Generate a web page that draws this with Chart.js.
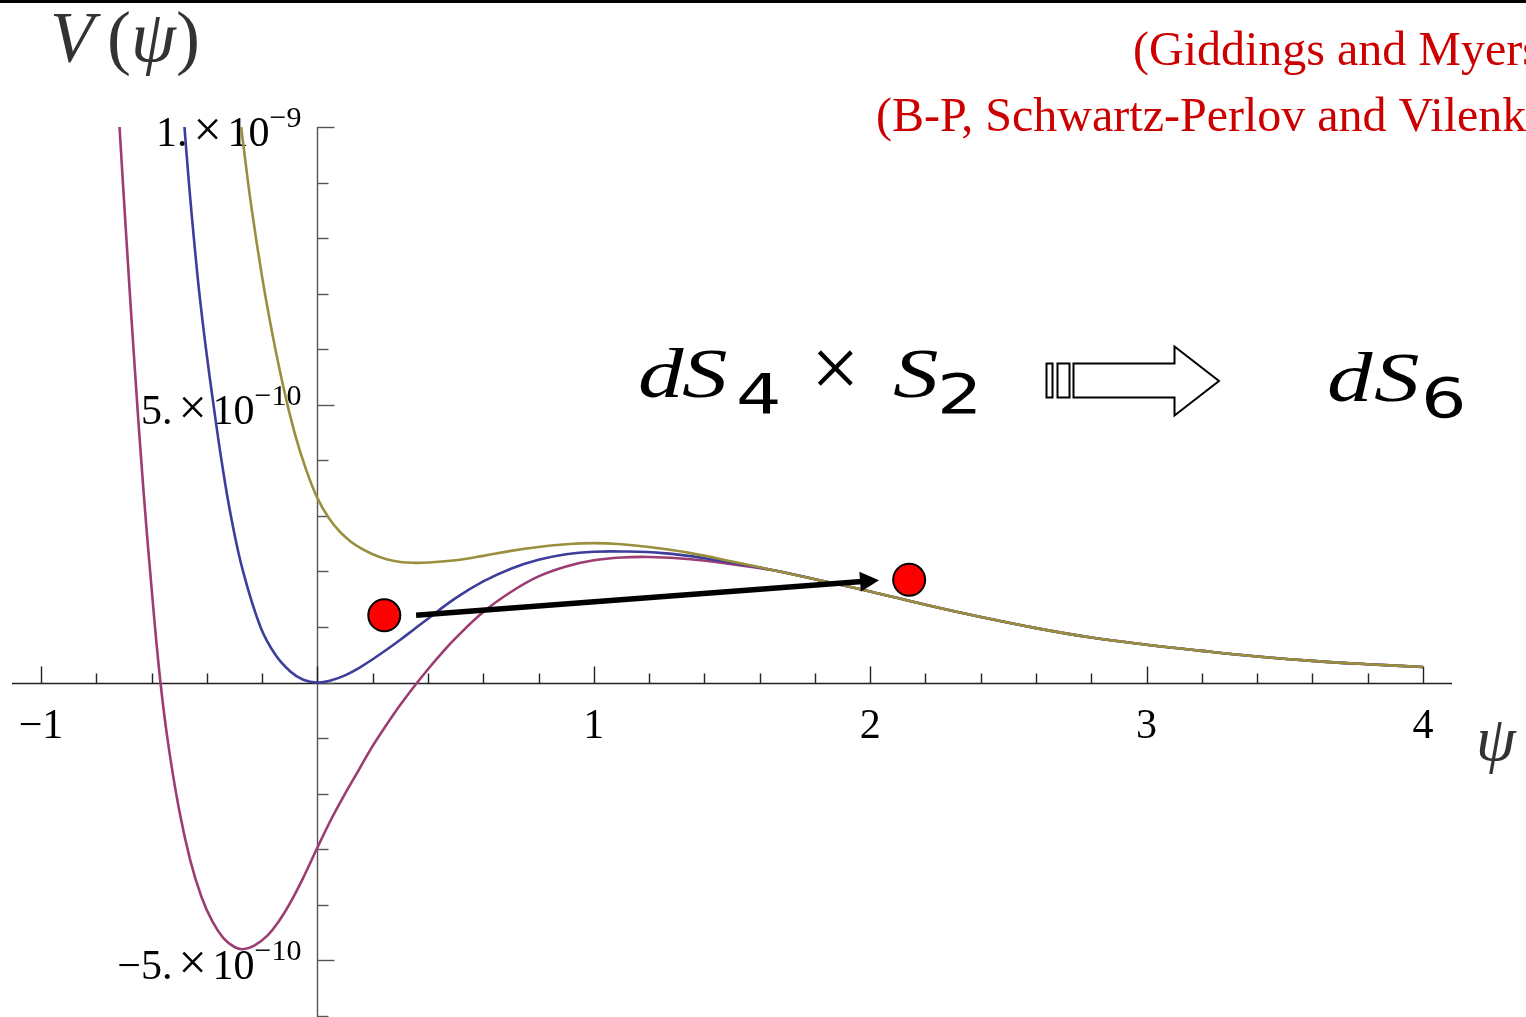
<!DOCTYPE html>
<html>
<head>
<meta charset="utf-8">
<title>V(ψ)</title>
<script src="https://cdn.jsdelivr.net/npm/chart.js@4.4.0/dist/chart.umd.min.js"></script>
<style>
  html, body { margin: 0; padding: 0; background: #fff; }
  #wrap { width: 1526px; height: 1017px; position: relative; overflow: hidden; }
</style>
</head>
<body>
<div id="wrap"><canvas id="potential" width="1526" height="1017"></canvas></div>
<script>
// V(psi) for three flux values, in units of 1e-10
const blueX = [-0.481, -0.465, -0.447, -0.427, -0.403, -0.376, -0.347, -0.313, -0.269, -0.206, -0.152, -0.098, -0.051, 0,
  0.05, 0.1, 0.15, 0.2, 0.25, 0.3, 0.35, 0.4, 0.5, 0.6, 0.7, 0.8, 0.9, 1.0, 1.1, 1.25, 1.4, 1.6, 1.8];
const blueV = [10, 9, 8, 7, 6, 5, 4, 3, 2, 1, 0.5, 0.2, 0.05, 0,
  0.04, 0.13, 0.26, 0.42, 0.59, 0.77, 0.96, 1.15, 1.52, 1.82, 2.05, 2.21, 2.31, 2.355, 2.36, 2.33, 2.24, 2.07, 1.86];

const magentaX = [-0.716, -0.69, -0.66, -0.63, -0.60, -0.57, -0.54, -0.50, -0.46, -0.42, -0.38, -0.34, -0.30, -0.27, -0.23, -0.18, -0.14, -0.10, -0.05, 0,
  0.05, 0.1, 0.15, 0.2, 0.25, 0.3, 0.35, 0.4, 0.45, 0.5, 0.6, 0.7, 0.8, 0.9, 1.0, 1.1, 1.2, 1.35, 1.5, 1.65, 1.8];
const magentaV = [10, 7.9, 5.6, 3.5, 1.7, 0.1, -1.1, -2.3, -3.2, -3.85, -4.3, -4.6, -4.76, -4.8, -4.74, -4.55, -4.3, -3.98, -3.5, -2.97,
  -2.46, -2.0, -1.57, -1.14, -0.76, -0.4, -0.07, 0.24, 0.53, 0.8, 1.27, 1.63, 1.91, 2.09, 2.2, 2.25, 2.26, 2.22, 2.13, 2.02, 1.86];

const oliveX = [-0.276, -0.24, -0.2, -0.16, -0.12, -0.08, -0.04, 0, 0.04, 0.08, 0.12, 0.16, 0.2, 0.25, 0.3, 0.35, 0.4, 0.5, 0.6, 0.7, 0.8, 0.9, 1.0, 1.1, 1.2, 1.35, 1.5, 1.65, 1.8];
const oliveV = [10, 8.6, 7.3, 6.2, 5.25, 4.45, 3.82, 3.32, 2.97, 2.72, 2.54, 2.41, 2.31, 2.22, 2.17, 2.155, 2.16, 2.2, 2.28, 2.37, 2.44, 2.49, 2.51, 2.49, 2.44, 2.33, 2.18, 2.02, 1.86];

// all three curves share the same tail
const tailX = [2.0, 2.2, 2.4, 2.6, 2.8, 3.0, 3.2, 3.4, 3.6, 3.8, 4.0];
const tailV = [1.64, 1.40, 1.18, 0.98, 0.81, 0.68, 0.57, 0.47, 0.39, 0.33, 0.28];

// vacua and the jump between them
const dotX = [0.242, 2.141];
const dotV = [1.21, 1.85];
const jumpFrom = [0.357, 1.21];
const jumpTo = [2.032, 1.84];

const xTickLabels = [-1, 1, 2, 3, 4];
const yTickValues = [10, 5, -5];
const yTickLabels = [['1.', '−9'], ['5.', '−10'], ['−5.', '−10']];

const SERIF = '"Liberation Serif", "Times New Roman", serif';

function curve(xs, vs) {
  const allX = xs.concat(tailX);
  const allV = vs.concat(tailV);
  return allX.map((x, i) => ({ x: x, y: allV[i] }));
}

function segment(ctx, x1, y1, x2, y2) {
  ctx.beginPath();
  ctx.moveTo(x1, y1);
  ctx.lineTo(x2, y2);
  ctx.stroke();
}

const axesPlugin = {
  id: 'crossAxes',
  beforeDatasetsDraw(chart) {
    const ctx = chart.ctx;
    const x = chart.scales.x, y = chart.scales.y;
    const x0 = Math.round(x.getPixelForValue(0)) + 0.5;
    const y0 = Math.round(y.getPixelForValue(0)) + 0.5;
    ctx.save();
    ctx.strokeStyle = '#222';
    ctx.lineWidth = 1.4;
    segment(ctx, x.left, y0, x.right, y0);
    ctx.strokeStyle = '#555';
    segment(ctx, x0, y.top, x0, y.bottom);

    // ticks along psi, every 0.2
    ctx.strokeStyle = '#222';
    for (let i = -5; i <= 20; i++) {
      const px = Math.round(x.getPixelForValue(i * 0.2)) + 0.5;
      const len = i % 5 === 0 ? 17 : 10;
      segment(ctx, px, y0, px, y0 - len);
    }
    // ticks along V, every 1e-10
    ctx.strokeStyle = '#555';
    for (let v = -6; v <= 10; v++) {
      const py = Math.round(y.getPixelForValue(v)) + 0.5;
      const len = v % 5 === 0 ? 17 : 11;
      segment(ctx, x0, py, x0 + len, py);
    }

    ctx.fillStyle = '#000';
    ctx.font = '42px ' + SERIF;
    ctx.textAlign = 'center';
    ctx.textBaseline = 'alphabetic';
    xTickLabels.forEach(v => {
      const txt = v < 0 ? '−' + Math.abs(v) : String(v);
      ctx.fillText(txt, x.getPixelForValue(v), y0 + 54);
    });

    ctx.textAlign = 'left';
    yTickValues.forEach((v, i) => {
      const py = y.getPixelForValue(v);
      const lead = yTickLabels[i][0];
      const sup = yTickLabels[i][1];
      ctx.font = '42px ' + SERIF;
      const wLead = ctx.measureText(lead).width;
      const wTen = ctx.measureText('10').width;
      ctx.font = '50px ' + SERIF;
      const wTimes = ctx.measureText('×').width;
      ctx.font = '30px ' + SERIF;
      const wSup = ctx.measureText(sup).width;
      const gap = 6;
      const left = x0 - 16 - wLead - gap - wTimes - gap - wTen - wSup;
      ctx.font = '42px ' + SERIF;
      ctx.fillText(lead, left, py + 19);
      ctx.fillText('10', left + wLead + 2 * gap + wTimes, py + 19);
      ctx.font = '50px ' + SERIF;
      ctx.fillText('×', left + wLead + gap, py + 19);
      ctx.font = '30px ' + SERIF;
      ctx.fillText(sup, left + wLead + 2 * gap + wTimes + wTen, py);
    });
    ctx.restore();
  },
  afterDatasetsDraw(chart) {
    const ctx = chart.ctx;
    const x = chart.scales.x, y = chart.scales.y;
    const ax = x.getPixelForValue(jumpFrom[0]), ay = y.getPixelForValue(jumpFrom[1]);
    const bx = x.getPixelForValue(jumpTo[0]), by = y.getPixelForValue(jumpTo[1]);
    const ang = Math.atan2(by - ay, bx - ax);
    const head = 19, half = 10;
    ctx.save();
    ctx.strokeStyle = '#000';
    ctx.fillStyle = '#000';
    ctx.lineWidth = 5.5;
    const ex = bx - head * Math.cos(ang), ey = by - head * Math.sin(ang);
    segment(ctx, ax, ay, ex + 2 * Math.cos(ang), ey + 2 * Math.sin(ang));
    ctx.beginPath();
    ctx.moveTo(bx, by);
    ctx.lineTo(ex - half * Math.sin(ang), ey + half * Math.cos(ang));
    ctx.lineTo(ex + half * Math.sin(ang), ey - half * Math.cos(ang));
    ctx.closePath();
    ctx.fill();
    ctx.restore();
  }
};

function glyph(ctx, text, gx, gy, font, sx) {
  ctx.save();
  ctx.translate(gx, gy);
  ctx.scale(sx, 1);
  ctx.font = font;
  ctx.fillText(text, 0, 0);
  ctx.restore();
}

const notesPlugin = {
  id: 'notes',
  afterDraw(chart) {
    const ctx = chart.ctx;
    ctx.save();
    ctx.fillStyle = '#000';
    ctx.fillRect(0, 0, 1526, 3);

    // V(psi) and psi axis names
    ctx.fillStyle = '#333';
    ctx.textAlign = 'left';
    ctx.textBaseline = 'alphabetic';
    glyph(ctx, 'V', 50, 61, 'italic 72px ' + SERIF, 1);
    glyph(ctx, '(', 107, 61, '72px ' + SERIF, 1);
    glyph(ctx, 'ψ', 131, 61, 'italic 72px ' + SERIF, 1);
    glyph(ctx, ')', 176, 61, '72px ' + SERIF, 1);
    glyph(ctx, 'ψ', 1476, 760, 'italic 64px ' + SERIF, 1);

    // references
    ctx.fillStyle = '#cc0000';
    ctx.font = '48px ' + SERIF;
    ctx.fillText('(Giddings and Myers)', 1133, 65);
    ctx.fillText('(B-P, Schwartz-Perlov and Vilenkin)', 876, 131);

    // dS4 x S2  =>  dS6
    ctx.fillStyle = '#000';
    const it = 'italic 70px ' + SERIF;
    const sub = '55px "DejaVu Sans", sans-serif';
    glyph(ctx, 'd', 638, 397, it, 1.3);
    glyph(ctx, 'S', 682, 397, it, 1.3);
    glyph(ctx, '4', 736, 413, sub, 1.3);
    glyph(ctx, '×', 811, 397, '86px ' + SERIF, 1);
    glyph(ctx, 'S', 893, 397, it, 1.3);
    glyph(ctx, '2', 937, 413, sub, 1.3);
    glyph(ctx, 'd', 1327, 401, it, 1.3);
    glyph(ctx, 'S', 1374, 401, it, 1.3);
    glyph(ctx, '6', 1421, 417, sub, 1.3);

    ctx.strokeStyle = '#000';
    ctx.lineWidth = 2;
    ctx.strokeRect(1046.5, 363.5, 6, 34);
    ctx.strokeRect(1057.5, 363.5, 12, 34);
    ctx.beginPath();
    ctx.moveTo(1073.5, 363.5);
    ctx.lineTo(1174.5, 363.5);
    ctx.lineTo(1174.5, 346.5);
    ctx.lineTo(1219, 381);
    ctx.lineTo(1174.5, 415.5);
    ctx.lineTo(1174.5, 397.5);
    ctx.lineTo(1073.5, 397.5);
    ctx.closePath();
    ctx.stroke();
    ctx.restore();
  }
};

const lineStyle = { pointRadius: 0, borderWidth: 2.6, fill: false, tension: 0.4 };

new Chart(document.getElementById('potential'), {
  type: 'line',
  data: {
    datasets: [
      {
        label: 'vacua',
        data: dotX.map((x, i) => ({ x: x, y: dotV[i] })),
        showLine: false,
        pointRadius: 16,
        pointBackgroundColor: '#ff0000',
        pointBorderColor: '#000',
        pointBorderWidth: 2
      },
      Object.assign({ label: 'olive', data: curve(oliveX, oliveV), borderColor: '#9a8f3e' }, lineStyle),
      Object.assign({ label: 'blue', data: curve(blueX, blueV), borderColor: '#3d3d9c' }, lineStyle),
      Object.assign({ label: 'magenta', data: curve(magentaX, magentaV), borderColor: '#9c3d72' }, lineStyle)
    ]
  },
  options: {
    responsive: false,
    animation: false,
    devicePixelRatio: 1,
    layout: { autoPadding: false, padding: { left: 12, right: 74, top: 127, bottom: 0 } },
    plugins: { legend: { display: false }, tooltip: { enabled: false } },
    scales: {
      x: { type: 'linear', min: -1.105, max: 4.105, display: false },
      y: { type: 'linear', min: -6.02, max: 10, display: false }
    }
  },
  plugins: [axesPlugin, notesPlugin]
});
</script>
</body>
</html>
